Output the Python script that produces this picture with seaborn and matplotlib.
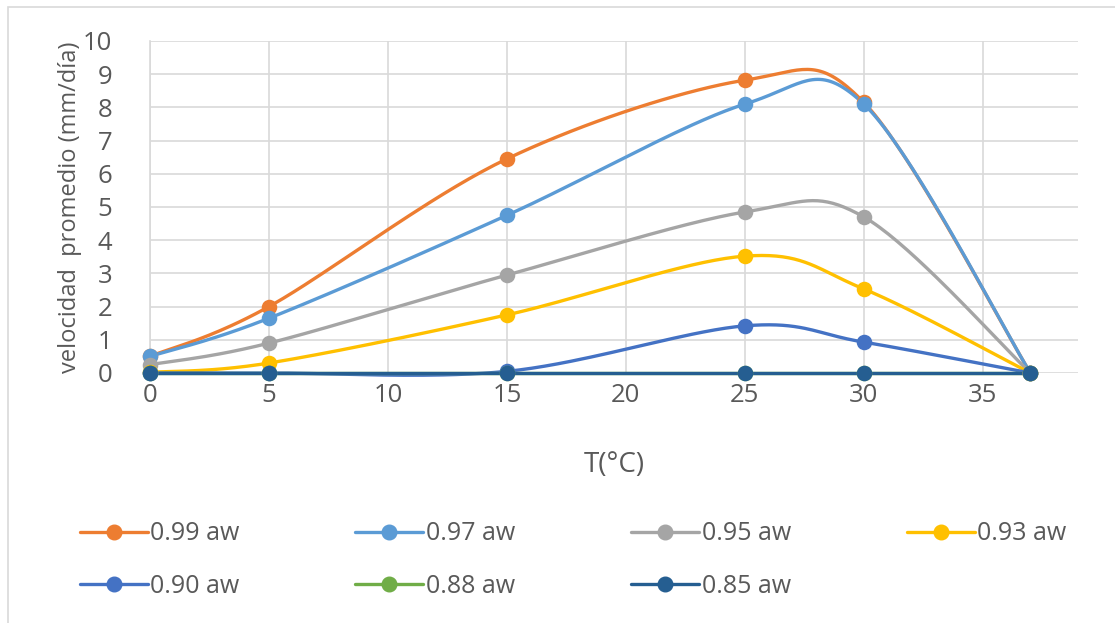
import numpy as np
import pandas as pd
import seaborn as sns
import matplotlib.pyplot as plt
from matplotlib.lines import Line2D
from matplotlib.patches import Rectangle

# datos
temperatura = [0, 5, 15, 25, 30, 37]
aw_099 = [0.50, 2.00, 6.45, 8.82, 8.15, 0.0]
aw_097 = [0.50, 1.65, 4.75, 8.10, 8.10, 0.0]
aw_095 = [0.25, 0.90, 2.95, 4.85, 4.70, 0.0]
aw_093 = [0.02, 0.30, 1.75, 3.52, 2.53, 0.0]
aw_090 = [0.00, 0.00, 0.05, 1.42, 0.93, 0.0]
aw_088 = [0.00, 0.00, 0.00, 0.00, 0.00, 0.0]
aw_085 = [0.00, 0.00, 0.00, 0.00, 0.00, 0.0]

series = ["0.99 aw", "0.97 aw", "0.95 aw", "0.93 aw", "0.90 aw", "0.88 aw", "0.85 aw"]
valores = [aw_099, aw_097, aw_095, aw_093, aw_090, aw_088, aw_085]
colores = ["#ED7D31", "#5B9BD5", "#A5A5A5", "#FFC000", "#4472C4", "#70AD47", "#255E91"]


def suavizar(x, y, n=40):
    # curva suavizada tipo Excel (Bezier con tangentes Catmull-Rom)
    p = np.column_stack([x, y]).astype(float)
    ext = np.vstack([p[0], p, p[-1]])
    xs, ys = [], []
    t = np.linspace(0, 1, n)[:, None]
    for i in range(len(p) - 1):
        p0, p1, p2, p3 = ext[i], ext[i + 1], ext[i + 2], ext[i + 3]
        b1 = p1 + (p2 - p0) / 6
        b2 = p2 - (p3 - p1) / 6
        c = ((1 - t) ** 3) * p1 + 3 * ((1 - t) ** 2) * t * b1 + 3 * (1 - t) * t ** 2 * b2 + t ** 3 * p2
        xs.extend(c[:, 0])
        ys.extend(c[:, 1])
    return np.array(xs), np.array(ys)


sns.set_theme(style="white")
plt.rcParams["font.family"] = ["Open Sans", "DejaVu Sans"]
gris = "#595959"

fig = plt.figure(figsize=(11.15, 6.23), dpi=100)
ax = fig.add_axes([150 / 1115, 1 - 373 / 623, 928 / 1115, 332 / 623])

for nombre, vals, col in zip(series, valores, colores):
    sx, sy = suavizar(temperatura, vals)
    sns.lineplot(x=sx, y=sy, sort=False, color=col, lw=2.4, ax=ax, zorder=3, clip_on=False)
    df = pd.DataFrame({"T": temperatura, "v": vals})
    sns.scatterplot(data=df, x="T", y="v", color=col, s=125, edgecolor=col, linewidth=0, ax=ax,
                    zorder=4, clip_on=False)

ax.set_xlim(0, 39)
ax.set_ylim(0, 10)
ax.set_xticks(range(0, 40, 5))
ax.set_yticks(range(0, 11))
ax.grid(True, color="#D9D9D9", lw=1.2)
for s in ["top", "right", "bottom"]:
    ax.spines[s].set_visible(False)
ax.spines["left"].set_color("#D9D9D9")
ax.spines["left"].set_linewidth(1.2)
ax.tick_params(labelsize=18.5, colors=gris, length=0)
ax.tick_params(axis="x", pad=7)
ax.tick_params(axis="y", pad=27)
ax.set_xlabel("T(°C)", fontsize=20, color=gris, labelpad=31)
ax.set_ylabel("velocidad  promedio (mm/día)", fontsize=17, color=gris, labelpad=1)

# orden para que la leyenda se llene por filas
orden = [0, 4, 1, 5, 2, 6, 3]
handles = [Line2D([0], [0], color=colores[i], lw=2.4, marker="o", markersize=10.5) for i in orden]
etiquetas = [series[i] for i in orden]
fig.legend(handles, etiquetas, ncol=4, loc="upper left", bbox_to_anchor=(57 / 1115, 1 - 499 / 623),
           frameon=False, fontsize=18, labelcolor=gris, handlelength=2.72, handletextpad=0.1,
           columnspacing=4.64, labelspacing=1.1)

fig.patches.append(Rectangle((8 / 1115, -0.01), 1.1, 1 - 7 / 623 + 0.01, transform=fig.transFigure,
                             fill=False, edgecolor="#D9D9D9", lw=1.2))

fig.savefig("out.png", dpi=100)
